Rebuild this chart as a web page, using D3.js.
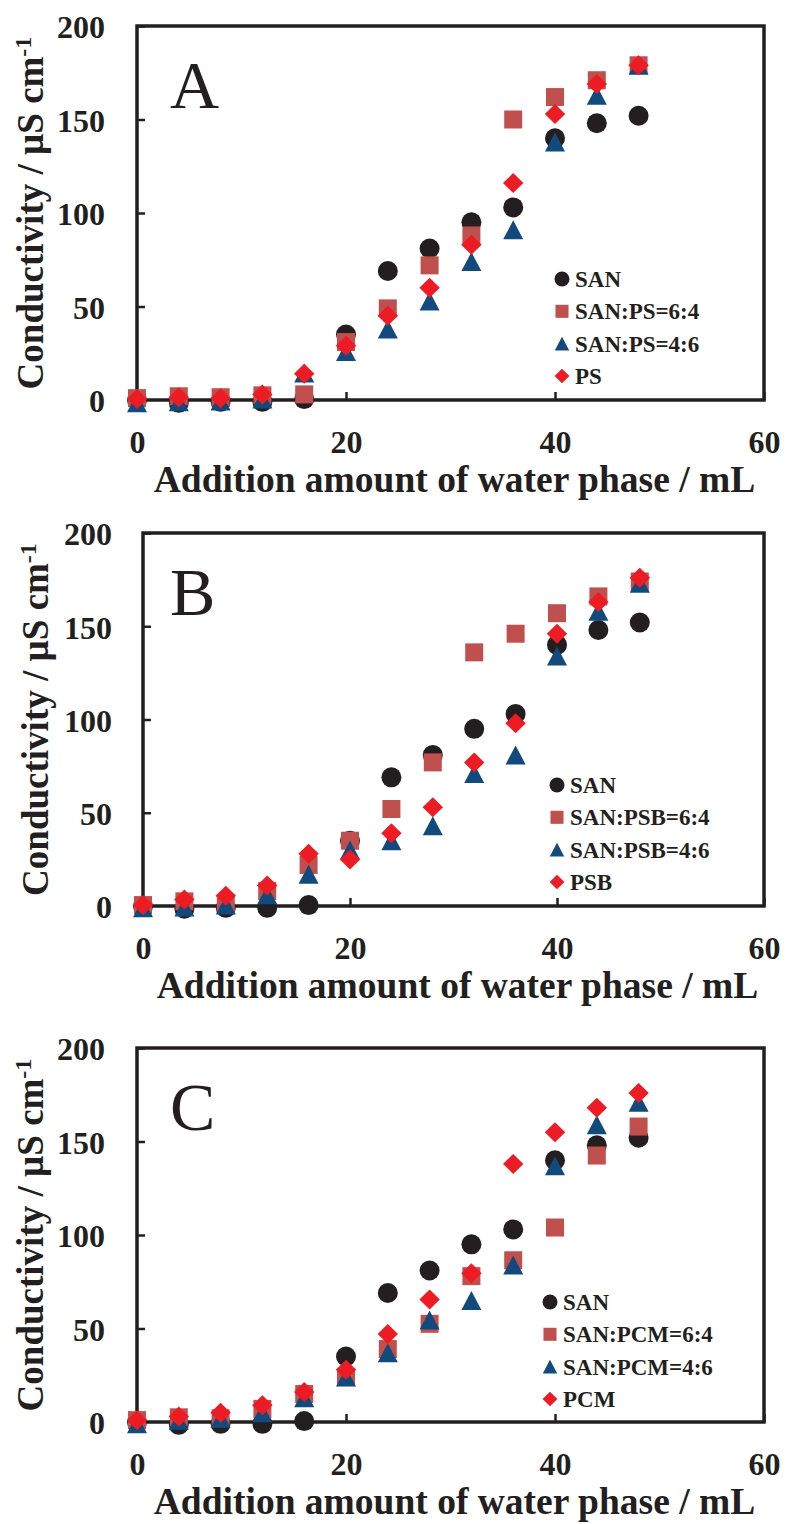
<!DOCTYPE html>
<html><head><meta charset="utf-8">
<script src="https://cdn.jsdelivr.net/npm/d3@7"></script>
<style>body{margin:0;background:#fff}</style>
</head><body>
<svg id="chart" width="787" height="1524"></svg>
<script>
// ---------- data ----------
const waterAdded = [0, 4, 8, 12, 16, 20, 24, 28, 32, 36, 40, 44, 48];
const xTickValues = [0, 20, 40, 60];
const yTickValues = [0, 50, 100, 150, 200];

const sanValues   = [0, -1.5, -1, -1, 0.5, 35, 69, 81, 95, 103, 140, 148, 152];

const ps64Values  = [1, 2, 1.5, 2.5, 3, 31, 49, 72, 88, 150, 162, 171, 179];
const ps46Values  = [-1.5, -1, -0.5, 0.5, 14.5, 26, 38, 53, 74, 91, 138, 163, 179];
const psValues    = [0.5, 1.5, 1, 3, 14, 29, 45, 60, 83, 116, 153, 169, 179];

const psb64Values = [0.5, 2.5, 1.5, 8, 22, 35, 52, 77, 136, 146, 157, 166, 174];
const psb46Values = [-1, -0.5, 0.5, 6, 17, 30, 35, 43, 71, 81, 134, 158, 173];
const psbValues   = [0.5, 3.5, 5.5, 11, 28, 25, 39, 53, 77, 98, 146, 163, 176];

const pcm64Values = [1, 2.5, 2, 7, 15, 24, 39, 52.5, 78, 86.5, 104, 142.5, 158];
const pcm46Values = [-1, 1, 2, 5, 13, 24, 37, 54.5, 65, 84, 137, 159, 171];
const pcmValues   = [1, 3, 5, 9, 16, 28, 47, 65.5, 79.5, 138, 155, 168, 176];

const legendA = ["SAN", "SAN:PS=6:4", "SAN:PS=4:6", "PS"];
const legendB = ["SAN", "SAN:PSB=6:4", "SAN:PSB=4:6", "PSB"];
const legendC = ["SAN", "SAN:PCM=6:4", "SAN:PCM=4:6", "PCM"];
const panelLetters = ["A", "B", "C"];

const xAxisTitle = "Addition amount of water phase / mL";
const yAxisTitle = "Conductivity / µS cm";
const yAxisTitleSup = "-1";

// ---------- style ----------
const seriesColors = ["#231f20", "#c0504d", "#134a7e", "#ed1c24"];
const seriesShapes = ["circle", "square", "triangle", "diamond"];
const ink = "#231f20";
const serif = "'Liberation Serif','Times New Roman',serif";

const panels = [
  {letter: panelLetters[0], series: [sanValues, ps64Values, ps46Values, psValues], legend: legendA,
   left: 137, right: 764, top: 26, bottom: 400, legX: 562, legY: 279, yPad: 32, yTitleX: 43},
  {letter: panelLetters[1], series: [sanValues, psb64Values, psb46Values, psbValues], legend: legendB,
   left: 143, right: 764, top: 533, bottom: 906, legX: 557, legY: 785, yPad: 31, yTitleX: 48},
  {letter: panelLetters[2], series: [sanValues, pcm64Values, pcm46Values, pcmValues], legend: legendC,
   left: 137, right: 764, top: 1048, bottom: 1422, legX: 550, legY: 1302, yPad: 32, yTitleX: 43}
];

function shapePath(shape, s) {
  const h = s / 2;
  switch (shape) {
    case "circle": return d3.symbol(d3.symbolCircle, Math.PI * h * h)();
    case "square": return `M${-h*0.9},${-h*0.9}H${h*0.9}V${h*0.9}H${-h*0.9}Z`;
    case "triangle": return `M0,${-h*0.95}L${h},${h*0.95}L${-h},${h*0.95}Z`;
    case "diamond": return `M0,${-h}L${h*1.02},0L0,${h}L${-h*1.02},0Z`;
  }
}

const svg = d3.select("#chart");

panels.forEach(p => {
  const x = d3.scaleLinear().domain([0, 60]).range([p.left, p.right]);
  const y = d3.scaleLinear().domain([0, 200]).range([p.bottom, p.top]);
  const g = svg.append("g");

  // axes (inward ticks)
  const yAxis = d3.axisLeft(y).tickValues(yTickValues).tickSize(-8).tickPadding(p.yPad);
  const xAxis = d3.axisBottom(x).tickValues(xTickValues).tickSize(-8).tickPadding(30);
  const ya = g.append("g").attr("transform", `translate(${p.left},0)`).call(yAxis);
  const xa = g.append("g").attr("transform", `translate(0,${p.bottom})`).call(xAxis);
  [ya, xa].forEach(a => {
    a.select(".domain").remove();
    a.selectAll(".tick line").attr("stroke", ink).attr("stroke-width", 2.5);
    a.selectAll(".tick text").attr("fill", ink).style("font-family", serif)
      .style("font-weight", "bold").style("font-size", "32px");
  });
  ya.selectAll(".tick text").attr("dy", "0.37em");

  // frame
  g.append("rect").attr("x", p.left).attr("y", p.top)
    .attr("width", p.right - p.left).attr("height", p.bottom - p.top)
    .attr("fill", "none").attr("stroke", ink).attr("stroke-width", 3.5);

  // panel letter
  g.append("text").attr("x", 170).attr("y", p.top + 82).text(p.letter)
    .attr("fill", ink).style("font-family", serif).style("font-size", "68px");

  // series
  p.series.forEach((vals, si) => {
    g.append("g").selectAll("path").data(vals).join("path")
      .attr("transform", (v, i) => `translate(${x(waterAdded[i])},${y(v)})`)
      .attr("d", shapePath(seriesShapes[si], 20))
      .attr("fill", seriesColors[si]);
  });

  // legend
  const lg = g.append("g");
  p.legend.forEach((name, i) => {
    const ly = p.legY + i * 32.3;
    lg.append("path").attr("transform", `translate(${p.legX},${ly})`)
      .attr("d", shapePath(seriesShapes[i], i === 0 ? 15 : 14.5)).attr("fill", seriesColors[i]);
    lg.append("text").attr("x", p.legX + 13).attr("y", ly + 8).text(name)
      .attr("fill", ink).style("font-family", serif).style("font-weight", "bold").style("font-size", "23px");
  });

  // x title
  g.append("text").attr("x", (p.left + p.right) / 2 + 4).attr("y", p.bottom + 92)
    .attr("text-anchor", "middle").text(xAxisTitle)
    .attr("fill", ink).style("font-family", serif).style("font-weight", "bold").style("font-size", "37.5px");

  // y title
  const yt = g.append("text")
    .attr("transform", `translate(${p.yTitleX},${(p.top + p.bottom) / 2}) rotate(-90)`)
    .attr("text-anchor", "middle")
    .attr("fill", ink).style("font-family", serif).style("font-weight", "bold").style("font-size", "37px");
  yt.append("tspan").text(yAxisTitle);
  yt.append("tspan").attr("dy", -12).style("font-size", "24px").text(yAxisTitleSup);
});
</script>
</body></html>
